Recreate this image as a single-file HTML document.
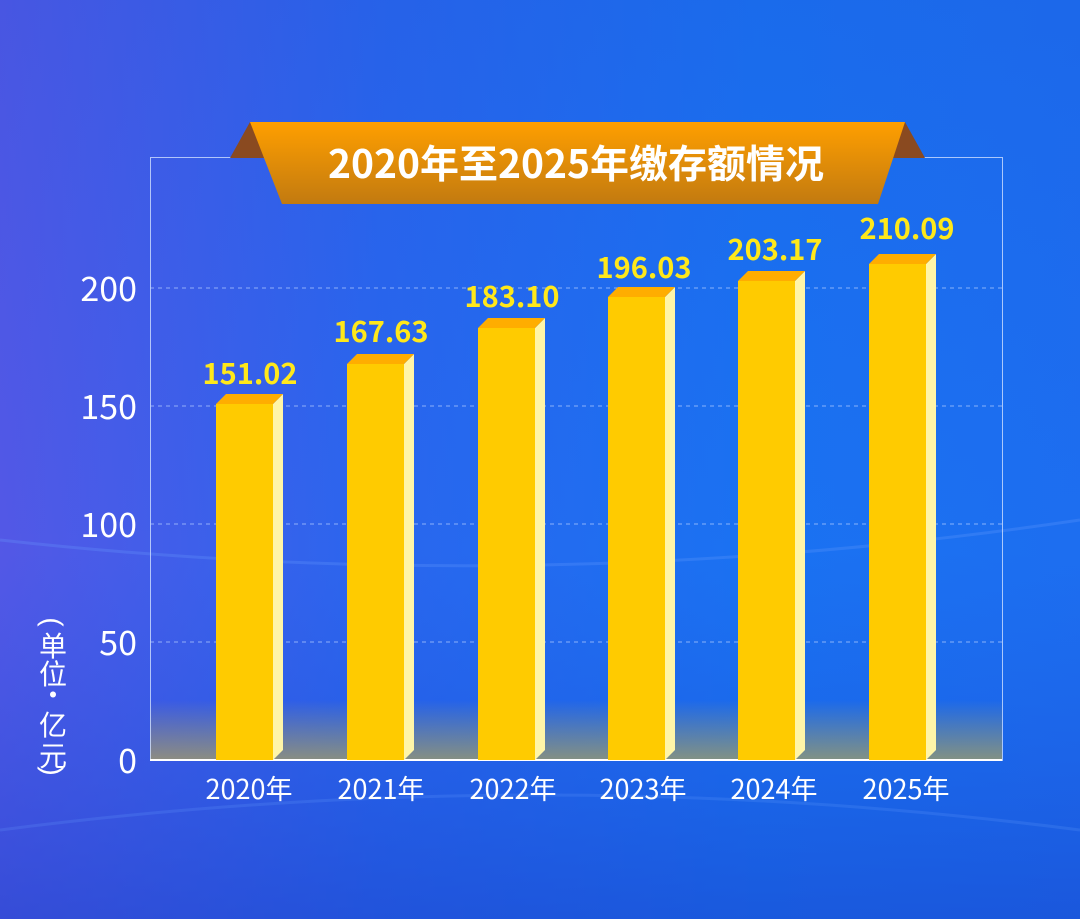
<!DOCTYPE html>
<html><head><meta charset="utf-8"><style>
body{margin:0;width:1080px;height:919px;overflow:hidden;}
</style></head><body>
<svg width="1080" height="919" viewBox="0 0 1080 919" xmlns="http://www.w3.org/2000/svg" font-family="'Noto Sans CJK SC','Liberation Sans',sans-serif">
<defs>
<linearGradient id="bg" x1="0" y1="0" x2="1" y2="0">
<stop offset="0" stop-color="#5358e6"/><stop offset="0.35" stop-color="#2a66ee"/><stop offset="0.7" stop-color="#1a72f2"/><stop offset="1" stop-color="#1d6ef0"/></linearGradient>
<linearGradient id="bgv" x1="0" y1="0" x2="0" y2="1">
<stop offset="0" stop-color="#1a4fd0" stop-opacity="0.2"/><stop offset="0.6" stop-color="#1a55e0" stop-opacity="0"/><stop offset="1" stop-color="#1840c8" stop-opacity="0.5"/></linearGradient>
<linearGradient id="floor" x1="0" y1="0" x2="0" y2="1">
<stop offset="0" stop-color="#c8b040" stop-opacity="0"/><stop offset="1" stop-color="#c8b040" stop-opacity="0.6"/></linearGradient>
<linearGradient id="ban" x1="0" y1="0" x2="0" y2="1">
<stop offset="0" stop-color="#ff9f00"/><stop offset="1" stop-color="#c27a10"/></linearGradient>
</defs>
<rect width="1080" height="919" fill="url(#bg)"/>
<rect width="1080" height="919" fill="url(#bgv)"/>
<path d="M0 540 Q540 600 1080 520" stroke="#6aa0ff" stroke-opacity="0.25" stroke-width="3" fill="none"/>
<path d="M0 830 Q540 760 1080 830" stroke="#6aa0ff" stroke-opacity="0.2" stroke-width="3" fill="none"/>
<rect x="150" y="700" width="852" height="60" fill="url(#floor)"/>
<rect x="150.5" y="157.5" width="852" height="603" fill="none" stroke="#cfe0ff" stroke-opacity="0.8" stroke-width="1"/>
<g stroke="#b8d0ff" stroke-opacity="0.7" stroke-dasharray="4 4" stroke-width="1">
<line x1="150" y1="288" x2="1002" y2="288"/><line x1="150" y1="406" x2="1002" y2="406"/>
<line x1="150" y1="524" x2="1002" y2="524"/><line x1="150" y1="642" x2="1002" y2="642"/></g>
<line x1="150" y1="760" x2="1002" y2="760" stroke="#fff" stroke-width="2"/>
<g fill="#fff" font-size="34" text-anchor="end">
<text x="137" y="301">200</text><text x="137" y="419">150</text><text x="137" y="537">100</text>
<text x="137" y="655">50</text><text x="137" y="773">0</text></g>
<g fill="#fff" font-size="28" text-anchor="middle">
<text transform="translate(53,622) rotate(90)" dominant-baseline="central" font-family="'Liberation Sans',sans-serif">(</text>
<text x="53" y="656">单</text>
<text x="53" y="684">位</text>
<text x="53" y="705">·</text>
<text x="53" y="735">亿</text>
<text x="53" y="766">元</text>
<text transform="translate(53,771) rotate(90)" dominant-baseline="central" font-family="'Liberation Sans',sans-serif">)</text>
</g>
<g font-size="27" fill="#fff" text-anchor="middle">
<text x="249" y="799">2020年</text><text x="381" y="799">2021年</text><text x="513" y="799">2022年</text>
<text x="643" y="799">2023年</text><text x="774" y="799">2024年</text><text x="906" y="799">2025年</text></g>
<g font-size="29" font-weight="bold" fill="#ffe81a" text-anchor="middle">
<text x="250" y="384">151.02</text><text x="381" y="342">167.63</text><text x="512" y="307">183.10</text>
<text x="644" y="278">196.03</text><text x="775" y="260">203.17</text><text x="907" y="239">210.09</text></g>
<g>
<polygon points="216,404 273,404 273,760 216,760" fill="#ffcb00"/><polygon points="273,404 283,394 283,750 273,760" fill="#fff5a8"/><polygon points="216,404 226,394 283,394 273,404" fill="#ffad00"/>
<polygon points="347,364 404,364 404,760 347,760" fill="#ffcb00"/><polygon points="404,364 414,354 414,750 404,760" fill="#fff5a8"/><polygon points="347,364 357,354 414,354 404,364" fill="#ffad00"/>
<polygon points="478,328 535,328 535,760 478,760" fill="#ffcb00"/><polygon points="535,328 545,318 545,750 535,760" fill="#fff5a8"/><polygon points="478,328 488,318 545,318 535,328" fill="#ffad00"/>
<polygon points="608,297 665,297 665,760 608,760" fill="#ffcb00"/><polygon points="665,297 675,287 675,750 665,760" fill="#fff5a8"/><polygon points="608,297 618,287 675,287 665,297" fill="#ffad00"/>
<polygon points="738,281 795,281 795,760 738,760" fill="#ffcb00"/><polygon points="795,281 805,271 805,750 795,760" fill="#fff5a8"/><polygon points="738,281 748,271 805,271 795,281" fill="#ffad00"/>
<polygon points="869,264 926,264 926,760 869,760" fill="#ffcb00"/><polygon points="926,264 936,254 936,750 926,760" fill="#fff5a8"/><polygon points="869,264 879,254 936,254 926,264" fill="#ffad00"/>
</g>
<polygon points="250,122 230,158 282,158" fill="#8a4a20"/>
<polygon points="905,122 925,158 873,158" fill="#8a4a20"/>
<polygon points="250,122 905,122 878,204 282,204" fill="url(#ban)"/>
<text x="576" y="178" font-size="39" font-weight="bold" fill="#fff" text-anchor="middle">2020年至2025年缴存额情况</text>
</svg>
</body></html>
